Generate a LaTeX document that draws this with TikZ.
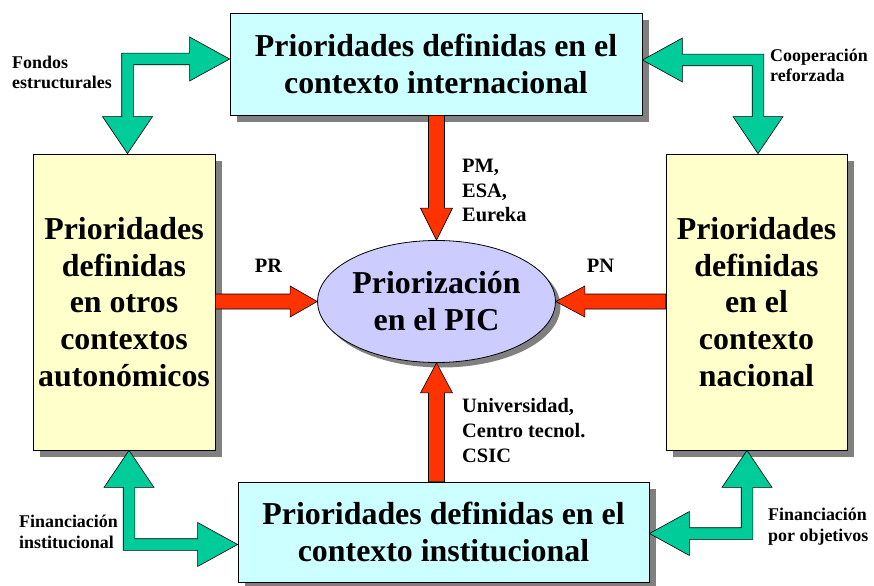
\documentclass[tikz,border=0pt]{standalone}
\usepackage{fontspec}
\setmainfont{Liberation Serif}
\usetikzlibrary{calc,shadows,shapes.geometric}
\definecolor{boxcyan}{HTML}{CCFFFF}
\definecolor{boxyellow}{HTML}{FFFFCC}
\definecolor{ellfill}{HTML}{CCCCFF}
\definecolor{redarr}{HTML}{FF3300}
\definecolor{greenarr}{HTML}{00CC99}
\definecolor{shadowgray}{HTML}{808080}
\newcommand\gshaft{5.8}
\newcommand\gLh{40}
\newcommand\ghh{22}
\newcommand\gLv{37}
\newcommand\ghv{25}
% red block arrow: from, to, shaft half width, head half width, head length
\newcommand\redblock[5]{%
  \coordinate (#1hd) at ($(#2)!#5!(#1)$);
  \filldraw[redfill] ($(#1)!#3!90:(#2)$) -- ($(#1hd)!#3!90:(#2)$) -- ($(#1hd)!#4!90:(#2)$) -- (#2)
    -- ($(#1hd)!#4!-90:(#2)$) -- ($(#1hd)!#3!-90:(#2)$) -- ($(#1)!#3!-90:(#2)$) -- cycle;}
% green elbow double arrow: tip A (horizontal), tip B (vertical), sx, sy
\newcommand\grelbow[4]{%
  \path (#2 |- #1) coordinate (#1c);
  \filldraw[greenfill] ($(#1c)+({-(#3)*\gshaft},{-(#4)*\gshaft})$)
    -- ($(#1)+({-(#3)*\gLh},{-(#4)*\gshaft})$)
    -- ($(#1)+({-(#3)*\gLh},{-(#4)*\ghh})$)
    -- (#1)
    -- ($(#1)+({-(#3)*\gLh},{(#4)*\ghh})$)
    -- ($(#1)+({-(#3)*\gLh},{(#4)*\gshaft})$)
    -- ($(#1c)+({(#3)*\gshaft},{(#4)*\gshaft})$)
    -- ($(#2)+({(#3)*\gshaft},{-(#4)*\gLv})$)
    -- ($(#2)+({(#3)*\ghv},{-(#4)*\gLv})$)
    -- (#2)
    -- ($(#2)+({-(#3)*\ghv},{-(#4)*\gLv})$)
    -- ($(#2)+({-(#3)*\gshaft},{-(#4)*\gLv})$)
    -- cycle;}
\begin{document}
\begin{tikzpicture}[x=1bp,y=-1bp,
  bigtext/.style={font=\fontsize{32}{37}\selectfont\bfseries, align=center},
  boxbase/.style={draw=black, line width=0.8bp, inner sep=0,
    drop shadow={shadow xshift=7bp,shadow yshift=-7bp,fill=shadowgray,opacity=1}},
  hctx/.style={boxbase, fill=boxcyan, minimum width=412bp, minimum height=102bp, bigtext},
  vctx/.style={boxbase, fill=boxyellow, minimum width=182bp, minimum height=296bp, bigtext},
  lab/.style={font=\fontsize{20.5}{25}\selectfont\bfseries, align=left, inner sep=0, anchor=base west},
  clab/.style={font=\fontsize{18}{21}\selectfont\bfseries, align=left, inner sep=0, anchor=base west},
  redfill/.style={fill=redarr, draw=black, line width=0.6bp},
  greenfill/.style={fill=greenarr, draw=black, line width=0.6bp},
]
\useasboundingbox[fill=white] (0,0) rectangle (874,586);
\node[hctx] (ctxT) at (436,64) {Prioridades definidas en el\\contexto internacional};
\node[hctx, minimum width=411bp, minimum height=100bp] (ctxB) at (443.5,532) {Prioridades definidas en el\\contexto institucional};
\node[vctx] (ctxL) at (124,302) {Prioridades\\definidas\\en otros\\contextos\\autonómicos};
\node[vctx, minimum width=181bp] (ctxR) at (756.5,302) {Prioridades\\definidas\\en el\\contexto\\nacional};
\node[ellipse, draw=black, line width=0.8bp, fill=ellfill, inner sep=0,
  minimum width=223bp, minimum height=122bp, bigtext,
  drop shadow={shadow xshift=5bp,shadow yshift=-5bp,fill=shadowgray,opacity=1}]
  (pic) at (436.5,301.5) {Priorización\\en el PIC};
% red arrows
\coordinate (rTf) at (pic.north |- ctxT.south);
\coordinate (rBf) at (pic.south |- ctxB.north);
\coordinate (rLf) at (ctxL.east |- pic.west);
\coordinate (rRf) at (ctxR.west |- pic.east);
\redblock{rTf}{pic.north}{8bp}{16bp}{32bp}
\redblock{rBf}{pic.south}{8bp}{16bp}{30bp}
\redblock{rLf}{pic.west}{7.5bp}{15.5bp}{27bp}
\redblock{rRf}{pic.east}{7.5bp}{15.5bp}{29bp}
% green elbow arrows
\coordinate (gA1) at ($(ctxT.west)+(0,-5)$);
\coordinate (gB1) at ($(ctxL.north)+(3.5,0)$);
\coordinate (gA2) at ($(ctxT.east)+(0,-4)$);
\coordinate (gB2) at ($(ctxR.north)+(1.5,0)$);
\coordinate (gA3) at ($(ctxB.west)+(0,12.5)$);
\coordinate (gB3) at ($(ctxL.south)+(5,0)$);
\coordinate (gA4) at ($(ctxB.east)+(0,1.5)$);
\coordinate (gB4) at ($(ctxR.south)+(-9.5,0)$);
\grelbow{gA1}{gB1}{1}{1}
\grelbow{gA2}{gB2}{-1}{1}
\grelbow{gA3}{gB3}{1}{-1}
\grelbow{gA4}{gB4}{-1}{-1}
% labels (anchor at baseline of last line)
\node[lab] (lPM) at (462,222) {PM,\\ESA,\\Eureka};
\node[lab] (lUni) at (462,462) {Universidad,\\Centro tecnol.\\CSIC};
\node[lab, anchor=base] (lPR) at (268.5,272) {PR};
\node[lab, anchor=base] (lPN) at (600.5,272) {PN};
\node[clab] (lFondos) at (12,89) {Fondos\\estructurales};
\node[clab] (lCoop) at (770,82) {Cooperación\\reforzada};
\node[clab] (lFinI) at (19,548) {Financiación\\institucional};
\node[clab] (lFinO) at (768,541) {Financiación\\por objetivos};
\end{tikzpicture}
\end{document}
